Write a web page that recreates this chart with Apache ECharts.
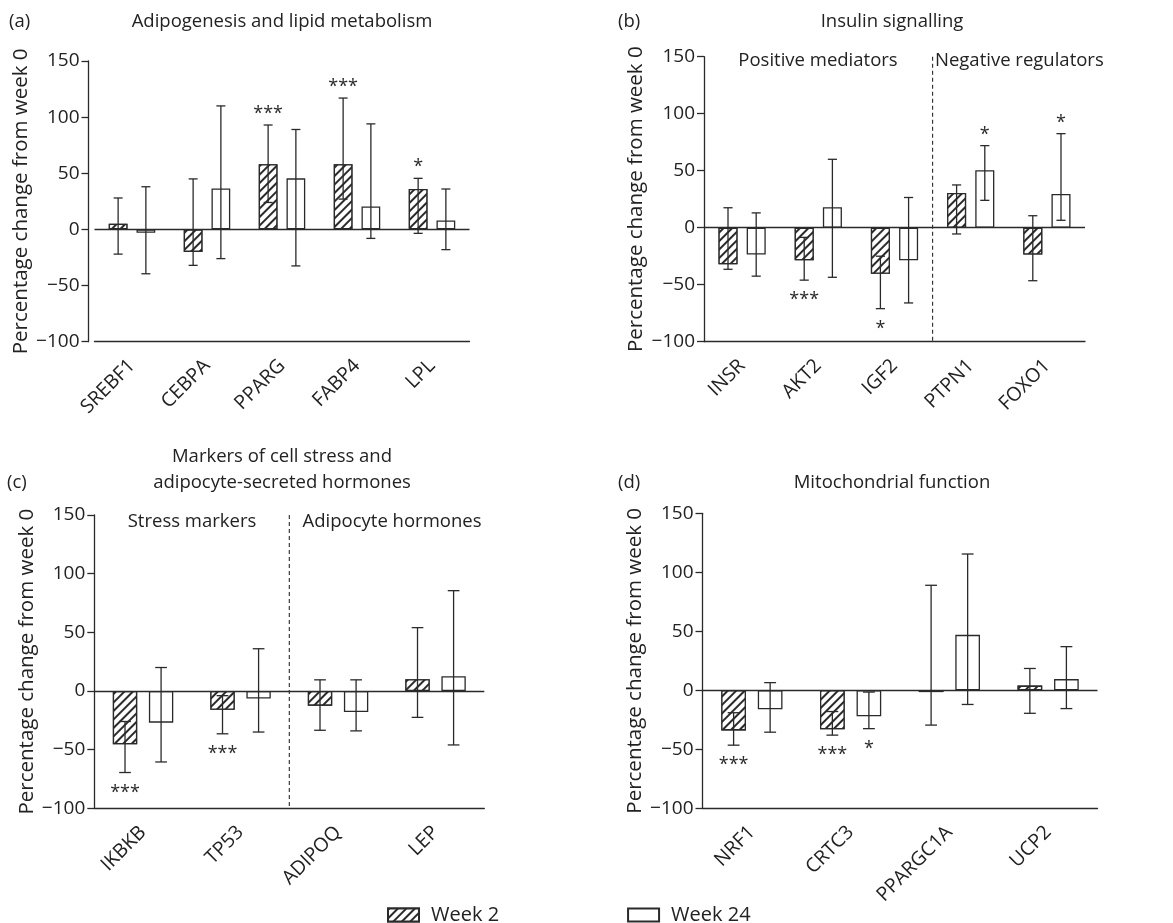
<!DOCTYPE html>
<html>
<head>
<meta charset="utf-8">
<script src="https://cdn.jsdelivr.net/npm/echarts@6/dist/echarts.min.js"></script>
<style>
html,body{margin:0;padding:0;background:#fff;}
#chart{width:1173px;height:923px;}
</style>
</head>
<body>
<div id="chart"></div>
<script>
// ---------- Panel (a): Adipogenesis and lipid metabolism ----------
const catsA = ['SREBF1', 'CEBPA', 'PPARG', 'FABP4', 'LPL'];
const wk2A = [5, -20, 58, 58, 36];
const wk2LoA = [-22, -32, 24, 27, -3.5];
const wk2HiA = [28, 45, 93, 117, 45.5];
const wk24A = [-3, 36.5, 45.5, 20.5, 8];
const wk24LoA = [-39.5, -26, -32.5, -8, -18];
const wk24HiA = [38, 110, 89, 94, 36];
const sig2A = ['', '', '***', '***', '*'];
const sig24A = ['', '', '', '', ''];

// ---------- Panel (b): Insulin signalling ----------
const catsB = ['INSR', 'AKT2', 'IGF2', 'PTPN1', 'FOXO1'];
const wk2B = [-32, -28.5, -40.5, 30.5, -23.5];
const wk2LoB = [-36.5, -46, -71, -5.5, -46.5];
const wk2HiB = [17.5, -8.5, -25, 37.5, 10.5];
const wk24B = [-23.5, 18, -28.5, 50.5, 29.5];
const wk24LoB = [-42.5, -43.5, -66, 24, 6.5];
const wk24HiB = [13, 60, 26.5, 72, 82.5];
const sig2B = ['', '***', '*', '', ''];
const sig24B = ['', '', '', '*', '*'];

// ---------- Panel (c): Cell stress / adipocyte hormones ----------
const catsC = ['IKBKB', 'TP53', 'ADIPOQ', 'LEP'];
const wk2C = [-45.5, -16, -12.5, 10];
const wk2LoC = [-69.5, -36.5, -33.5, -22.5];
const wk2HiC = [-26, -4, 9.5, 54];
const wk24C = [-27, -6.5, -18, 12.5];
const wk24LoC = [-60.5, -35, -34, -46];
const wk24HiC = [20, 36, 9.5, 85.5];
const sig2C = ['***', '***', '', ''];
const sig24C = ['', '', '', ''];

// ---------- Panel (d): Mitochondrial function ----------
const catsD = ['NRF1', 'CRTC3', 'PPARGC1A', 'UCP2'];
const wk2D = [-34, -33, -1.5, 4];
const wk2LoD = [-46.5, -38, -29.5, -19.5];
const wk2HiD = [-19, -18, 89, 18.5];
const wk24D = [-16, -22, 47, 9.5];
const wk24LoD = [-35.5, -32.5, -12, -15.5];
const wk24HiD = [6.5, -1.5, 115.5, 37];
const sig2D = ['***', '***', '', ''];
const sig24D = ['', '*', '', ''];

// Y axis ticks
const yMin = -100, yMax = 150, yStep = 50;
const yName = 'Percentage change from week 0';
const seriesNames = ['Week 2', 'Week 24'];

const FONT = "'Open Sans', 'Noto Sans', sans-serif";
const INK = '#2a2a2a';
const BAR_W = 0.25, BAR_GAP = 0.48;

const panels = [
  {cats: catsA, w2: wk2A, w2lo: wk2LoA, w2hi: wk2HiA, w24: wk24A, w24lo: wk24LoA, w24hi: wk24HiA, s2: sig2A, s24: sig24A,
   grid: {left: 94.5, top: 61, width: 375, height: 280.7}, yOffset: 6, divider: null},
  {cats: catsB, w2: wk2B, w2lo: wk2LoB, w2hi: wk2HiB, w24: wk24B, w24lo: wk24LoB, w24hi: wk24HiB, s2: sig2B, s24: sig24B,
   grid: {left: 704, top: 56.7, width: 381, height: 285}, yOffset: 0, divider: 2},
  {cats: catsC, w2: wk2C, w2lo: wk2LoC, w2hi: wk2HiC, w24: wk24C, w24lo: wk24LoC, w24hi: wk24HiC, s2: sig2C, s24: sig24C,
   grid: {left: 94.3, top: 515, width: 390, height: 293.3}, yOffset: 0, divider: 1},
  {cats: catsD, w2: wk2D, w2lo: wk2LoD, w2hi: wk2HiD, w24: wk24D, w24lo: wk24LoD, w24hi: wk24HiD, s2: sig2D, s24: sig24D,
   grid: {left: 702.5, top: 513.3, width: 395, height: 295}, yOffset: 0, divider: null}
];

const hatch = {
  symbol: 'rect', symbolSize: 1, dashArrayX: [1, 0], dashArrayY: [1.1, 3.6],
  rotation: -Math.PI / 4, color: INK, backgroundColor: '#fff'
};

function errRender(vals, lo, hi, sig, sign) {
  return function (params, api) {
    const i = params.dataIndex;
    const band = api.size([1, 0])[0];
    const bw = band * BAR_W;
    const off = sign * bw * (1 + BAR_GAP) / 2;
    const x = api.coord([i, 0])[0] + off;
    const yLo = api.coord([i, lo[i]])[1];
    const yHi = api.coord([i, hi[i]])[1];
    const cap = band * 0.06;
    const ls = {stroke: INK, lineWidth: 1.3};
    const children = [
      {type: 'line', shape: {x1: x, y1: yLo, x2: x, y2: yHi}, style: ls},
      {type: 'line', shape: {x1: x - cap, y1: yLo, x2: x + cap, y2: yLo}, style: ls},
      {type: 'line', shape: {x1: x - cap, y1: yHi, x2: x + cap, y2: yHi}, style: ls}
    ];
    if (sig[i]) {
      const up = vals[i] >= 0;
      const ty = up ? yHi - 11 : yLo + 20;
      children.push({type: 'text', style: {text: sig[i], x: x, y: ty, align: 'center', verticalAlign: 'middle',
        fill: INK, font: '18px ' + FONT}});
    }
    return {type: 'group', children: children};
  };
}

function dividerRender(params, api) {
  const band = api.size([1, 0])[0];
  const idx = api.value(0);
  const x = api.coord([idx, 0])[0] + band / 2;
  const y1 = api.coord([idx, yMax])[1];
  const y2 = api.coord([idx, yMin])[1];
  return {type: 'line', shape: {x1: x, y1: y1, x2: x, y2: y2},
    style: {stroke: INK, lineWidth: 1.1, lineDash: [4, 3]}};
}

const grid = [], xAxis = [], yAxis = [], series = [];
panels.forEach((p, k) => {
  grid.push(p.grid);
  xAxis.push({
    type: 'category', gridIndex: k, data: p.cats,
    axisLine: {onZero: false, lineStyle: {color: INK, width: 1.3}},
    axisTick: {alignWithLabel: true, length: 7, lineStyle: {color: INK, width: 1.3}},
    axisLabel: {rotate: 45, margin: 21, color: '#222', fontSize: 19.5, fontFamily: FONT},
    splitLine: {show: false}
  });
  yAxis.push({
    type: 'value', gridIndex: k, min: yMin, max: yMax, interval: yStep, offset: p.yOffset,
    name: yName, nameLocation: 'middle', nameGap: 57,
    nameTextStyle: {fontSize: 20.5, fontFamily: FONT, color: '#222'},
    axisLine: {show: true, lineStyle: {color: INK, width: 1.3}},
    axisTick: {show: true, length: 7, lineStyle: {color: INK, width: 1.3}},
    axisLabel: {fontSize: 19, fontFamily: FONT, color: '#222', margin: 9,
      formatter: v => (v < 0 ? '\u2212' + Math.abs(v) : String(v))},
    splitLine: {show: false}
  });
  series.push({
    name: seriesNames[0], type: 'bar', xAxisIndex: k, yAxisIndex: k, data: p.w2,
    barWidth: (BAR_W * 100) + '%', barGap: (BAR_GAP * 100) + '%',
    itemStyle: {color: '#fff', borderColor: INK, borderWidth: 1.3, decal: hatch},
    markLine: {silent: true, symbol: 'none', label: {show: false},
      lineStyle: {color: INK, type: 'solid', width: 1.3}, data: [{yAxis: 0}]}
  });
  series.push({
    name: seriesNames[1], type: 'bar', xAxisIndex: k, yAxisIndex: k, data: p.w24,
    barWidth: (BAR_W * 100) + '%', barGap: (BAR_GAP * 100) + '%',
    itemStyle: {color: '#fff', borderColor: INK, borderWidth: 1.3}
  });
  series.push({
    type: 'custom', xAxisIndex: k, yAxisIndex: k, z: 5,
    data: p.cats.map((c, i) => [i]),
    renderItem: errRender(p.w2, p.w2lo, p.w2hi, p.s2, -1)
  });
  series.push({
    type: 'custom', xAxisIndex: k, yAxisIndex: k, z: 5,
    data: p.cats.map((c, i) => [i]),
    renderItem: errRender(p.w24, p.w24lo, p.w24hi, p.s24, 1)
  });
  if (p.divider !== null) {
    series.push({
      type: 'custom', xAxisIndex: k, yAxisIndex: k, z: 4,
      data: [[p.divider]], renderItem: dividerRender
    });
  }
});

function txt(text, x, y, align) {
  return {type: 'text', x: x, y: y, silent: true,
    style: {text: text, align: align || 'center', verticalAlign: 'middle',
      fill: '#222', font: '18.5px ' + FONT}};
}

const option = {
  animation: false,
  backgroundColor: '#fff',
  grid: grid, xAxis: xAxis, yAxis: yAxis, series: series,
  legend: {
    data: seriesNames, left: 382, top: 900, itemWidth: 31, itemHeight: 13, itemGap: 128,
    icon: 'rect', selectedMode: false,
    textStyle: {fontSize: 20, fontFamily: FONT, color: '#222', padding: [0, 0, 0, 7]}
  },
  graphic: [
    txt('(a)', 9, 22, 'left'),
    txt('Adipogenesis and lipid metabolism', 282, 22),
    txt('(b)', 618, 22, 'left'),
    txt('Insulin signalling', 892, 22),
    txt('Positive mediators', 818, 61),
    txt('Negative regulators', 935, 61, 'left'),
    txt('(c)', 7, 483, 'left'),
    txt('Markers of cell stress and', 282, 457),
    txt('adipocyte-secreted hormones', 282, 483),
    txt('Stress markers', 192, 522),
    txt('Adipocyte hormones', 392, 522),
    txt('(d)', 618, 483, 'left'),
    txt('Mitochondrial function', 892, 483)
  ]
};

const chart = echarts.init(document.getElementById('chart'));
chart.setOption(option);
</script>
</body>
</html>
